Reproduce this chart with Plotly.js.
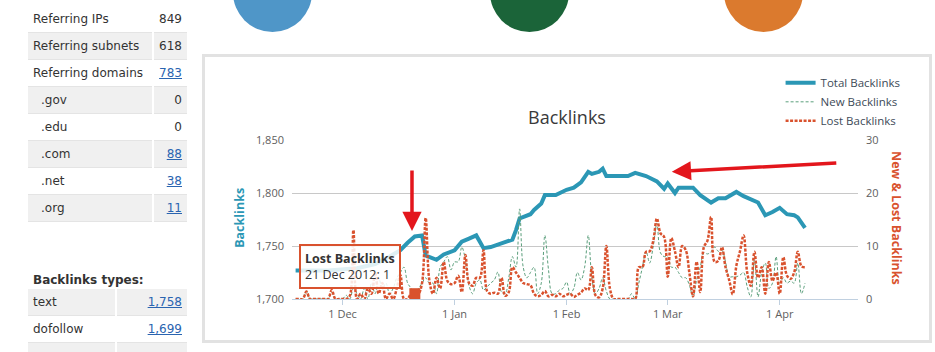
<!DOCTYPE html>
<html><head><meta charset="utf-8">
<script src="https://cdn.plot.ly/plotly-3.0.1.min.js"></script>
<style>
html,body{margin:0;padding:0;background:#fff;width:935px;height:352px;overflow:hidden;position:relative;font-family:"DejaVu Sans",Verdana,sans-serif;}
.circle{position:absolute;width:79px;height:79px;border-radius:50%;top:-47px;}
#box{position:absolute;left:202px;top:54px;width:724px;height:283px;border:3px solid #e2e2e2;}
#chart{position:absolute;left:205px;top:57px;width:724px;height:283px;}
table.side{position:absolute;left:28px;border-collapse:collapse;width:159px;font-size:12px;color:#333;}
table.side td{height:26px;padding:0 5px;border-bottom:1px solid #e4e4e4;white-space:nowrap;}
table.side tr.g td{background:#f0f0f0;}
table.side td.v{text-align:right;border-left:2px solid #fff;}
table.side td.sub{padding-left:13px;}
table.side a{color:#2a64b0;text-decoration:underline;}
#t1{top:6px;}
#t1 td.l{width:115px;}
#t2{top:289px;}
#t2 td.l{width:77px;}
#h2{position:absolute;left:33px;top:273px;font-size:12px;font-weight:bold;color:#333;}
</style></head>
<body>
<div class="circle" style="left:233px;background:#4f96c8;"></div>
<div class="circle" style="left:490px;background:#1b6439;"></div>
<div class="circle" style="left:724px;background:#db7a2e;"></div>

<table class="side" id="t1">
<tr><td class="l">Referring IPs</td><td class="v">849</td></tr>
<tr class="g"><td class="l">Referring subnets</td><td class="v">618</td></tr>
<tr><td class="l">Referring domains</td><td class="v"><a>783</a></td></tr>
<tr class="g"><td class="l sub">.gov</td><td class="v">0</td></tr>
<tr><td class="l sub">.edu</td><td class="v">0</td></tr>
<tr class="g"><td class="l sub">.com</td><td class="v"><a>88</a></td></tr>
<tr><td class="l sub">.net</td><td class="v"><a>38</a></td></tr>
<tr class="g"><td class="l sub">.org</td><td class="v"><a>11</a></td></tr>
</table>
<div id="h2">Backlinks types:</div>
<table class="side" id="t2">
<tr class="g"><td class="l">text</td><td class="v"><a>1,758</a></td></tr>
<tr><td class="l">dofollow</td><td class="v"><a>1,699</a></td></tr>
<tr class="g"><td class="l">&nbsp;</td><td class="v">&nbsp;</td></tr>
</table>

<div id="box"></div>
<div id="chart"></div>

<script>
// ---- data ----
const seriesNames = ['Total Backlinks', 'New Backlinks', 'Lost Backlinks'];

const totalDates = [
 '2012-11-18','2012-11-27','2012-12-05','2012-12-10','2012-12-14','2012-12-17','2012-12-19','2012-12-21','2012-12-23','2012-12-24',
 '2012-12-27','2012-12-29','2013-01-01','2013-01-03','2013-01-05','2013-01-07','2013-01-08','2013-01-09','2013-01-11','2013-01-14',
 '2013-01-17','2013-01-18','2013-01-19','2013-01-22','2013-01-23','2013-01-25','2013-01-26','2013-01-29','2013-02-01','2013-02-03',
 '2013-02-05','2013-02-07','2013-02-08','2013-02-10','2013-02-11','2013-02-12','2013-02-18','2013-02-20','2013-02-23','2013-02-26',
 '2013-02-28','2013-03-01','2013-03-03','2013-03-04','2013-03-08','2013-03-10','2013-03-13','2013-03-15','2013-03-17','2013-03-20',
 '2013-03-22','2013-03-26','2013-03-27','2013-03-28','2013-03-30','2013-04-01','2013-04-03','2013-04-05','2013-04-06','2013-04-08'];
const totalValues = [
 1727,1727,1729,1733,1740,1746,1753,1759,1760,1741,
 1737,1742,1746,1754,1757,1760,1754,1748,1749,1753,
 1756,1765,1776,1780,1784,1790,1798,1798,1803,1805,
 1810,1820,1818,1820,1823,1816,1816,1819,1816,1811,
 1804,1809,1800,1805,1805,1798,1791,1795,1795,1801,
 1797,1791,1784,1779,1782,1786,1780,1779,1777,1767];

// daily values, 18 Nov 2012 .. 8 Apr 2013
const dailyStart = '2012-11-18';
const newValues = [
 0,0,0,1.5,0,0,0,0,0,0,1.2,0,0,
 0,0.7,0,2,1,0,2,0,3,1,4,2,3,1,2,4,5,6,3,2,1,2,3,4,3,3,1,6,7,8,5.5,
 7,7,9.8,7.4,2.5,1,3,3.6,1.7,2.3,3,3.6,5.1,1.3,1,4,8,6,17,6,4,5,6,1,3,12,5.5,1,1,1.7,2,
 3.2,1,2,5,3.6,6,12,4,1,2,4,1.5,0,0,0,0,0,0,1,0,3,6,9,6.8,10,14.3,8.7,8,
 8,6,6,5,4,4,2.6,0.4,3.6,6,8.7,8.5,8.9,9.8,9,9.2,7,4.2,4.2,4.2,4.5,5,2.3,0.4,7.4,0.4,5,6.8,2,3,8,
 3,4,3,3.4,3,6.8,1,3];
const lostValues = [
 0,0,0,1.4,0,0,0,0,0,0,1.7,0,0,
 0,0,0.6,13,0,1,0,2,1,5,1,3,0,1,0,2,4.5,0,0,1,1,1,3,15.3,3.6,1,4,2,7,3.4,2.8,
 3,4.4,1.3,8.3,3,2.5,4,4,9.2,1.5,1,1.2,1,4,0.6,1.3,6,5,4,3,2.8,2.6,1,0.5,0.8,1.5,0.5,0.8,0.5,1,0.5,
 0.8,1,0.4,0.8,1.2,2,1.7,6,0.7,0.3,2,10,2,0,0,0,0,0,0,0,6,6,8.9,9,11,15.2,12.4,11.7,
 4.2,11.5,9,6,10,9.2,4.9,0.5,7,1.3,9.8,11,15.5,7,7.2,9.8,6,3.6,0.9,6.3,9,12,5,2.5,8.9,4,6,1,7,3.4,5,
 1,7.9,4.4,3.8,5,8.9,6.2,6];

const tooltipSeries = 'Lost Backlinks';
const tooltipDate = '2012-12-21';
const tooltipLabel = '21 Dec 2012';

// ---- build daily date list (category axis values) ----
function dailyDates(start, n){
  const p = start.split('-').map(Number);
  const t0 = Date.UTC(p[0], p[1]-1, p[2]);
  const out = [];
  for(let i=0;i<n;i++){ out.push(new Date(t0 + i*86400000).toISOString().slice(0,10)); }
  return out;
}
const dailyX = dailyDates(dailyStart, lostValues.length);
const tipIdx = dailyX.indexOf(tooltipDate);
const tipValue = lostValues[tipIdx];

const TEAL = '#2b97b5', GREEN = '#5b9f7c', RED = '#d9522e';

const traces = [
 {x: totalDates, y: totalValues, name: seriesNames[0], type:'scatter', mode:'lines',
  line:{color:TEAL, width:4}, yaxis:'y'},
 {x: dailyX, y: newValues, name: seriesNames[1], type:'scatter', mode:'lines',
  line:{color:GREEN, width:1, dash:'3px,2px', shape:'spline', smoothing:1}, yaxis:'y2'},
 {x: dailyX, y: lostValues, name: seriesNames[2], type:'scatter', mode:'lines',
  line:{color:RED, width:2.5, dash:'3px,1.5px', shape:'spline', smoothing:1}, yaxis:'y2'},
 {x: [dailyX[tipIdx]], y: [tipValue], type:'scatter', mode:'markers', showlegend:false,
  marker:{symbol:'square', size:11, color:RED}, yaxis:'y2'}
];

const layout = {
  width:724, height:283,
  margin:{l:87, r:71, t:83, b:41, autoexpand:false},
  paper_bgcolor:'rgba(0,0,0,0)', plot_bgcolor:'rgba(0,0,0,0)',
  font:{family:'"Open Sans", sans-serif', size:11, color:'#606060'},
  showlegend:true,
  title:{text:'Backlinks', font:{size:18, color:'#3a3a3a'}, x:0.5, xanchor:'center',
         yref:'container', y:0.786, yanchor:'middle'},
  legend:{xref:'container', yref:'container', x:0.795, y:0.96, xanchor:'left', yanchor:'top',
          itemwidth:30, font:{size:11.5, color:'#3d4a57'}, tracegroupgap:0, bgcolor:'rgba(0,0,0,0)'},
  xaxis:{type:'date', range:['2012-11-17','2013-04-22 16:00'], tickformat:'%-d %b',
         tick0:'2012-12-01', dtick:'M1', ticks:'outside', ticklen:5, tickcolor:'#C0D0E0',
         showline:true, linecolor:'#C0D0E0', linewidth:1, showgrid:false, zeroline:false,
         automargin:false, tickfont:{size:11, color:'#606060'}},
  yaxis:{range:[1700,1850], dtick:50, tickformat:',', showgrid:true, gridcolor:'#C8C8C8',
         zeroline:false, ticks:'', ticklabelstandoff:7, automargin:false, tickfont:{size:11, color:'#606060'}},
  yaxis2:{range:[0,30], dtick:10, overlaying:'y', side:'right', showgrid:false, zeroline:false,
          ticks:'', ticklabelstandoff:7, automargin:false, tickfont:{size:11, color:'#606060'}},
  annotations:[
    {text:'<b>Backlinks</b>', textangle:-90, xref:'paper', yref:'paper', x:-0.092, y:0.51,
     xanchor:'center', yanchor:'middle', showarrow:false, font:{size:12.5, color:TEAL}},
    {text:'<b>New &amp; Lost Backlinks</b>', textangle:90, xref:'paper', yref:'paper', x:1.067, y:0.51,
     xanchor:'center', yanchor:'middle', showarrow:false, font:{size:12.5, color:RED}},
    {text:'<b>'+tooltipSeries+'</b><br>'+tooltipLabel+': '+tipValue, xref:'paper', yref:'paper',
     x:0.1025, y:0.207, xanchor:'center', yanchor:'middle', align:'left', showarrow:false,
     bgcolor:'rgba(255,255,255,0.85)', bordercolor:RED, borderwidth:2, borderpad:4,
     font:{size:12.5, color:'#333'}},
    {text:'', xref:'paper', yref:'paper', x:0.212, y:0.428, ax:0, ay:-62,
     showarrow:true, arrowhead:2, arrowsize:1.1, arrowwidth:3.5, arrowcolor:'#e3161c'},
    {text:'', xref:'paper', yref:'paper', x:0.671, y:0.80, ax:166, ay:-9,
     showarrow:true, arrowhead:2, arrowsize:1.1, arrowwidth:3.5, arrowcolor:'#e3161c'}
  ]
};

Plotly.newPlot('chart', traces, layout, {displayModeBar:false, staticPlot:true});
</script>
</body></html>
